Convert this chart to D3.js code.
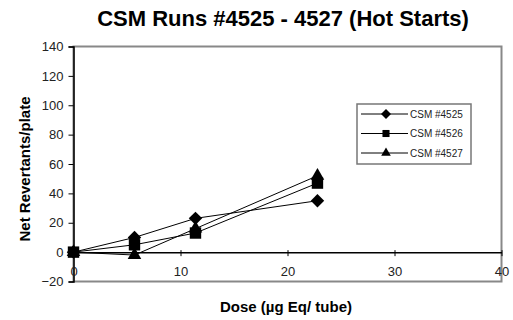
<!DOCTYPE html>
<html>
<head>
<meta charset="utf-8">
<script src="https://cdn.jsdelivr.net/npm/d3@7"></script>
<style>
body { margin: 0; background: #fff; }
text { font-family: Arial, "Liberation Sans", sans-serif; }
</style>
</head>
<body>
<script>
// data
var doses = [0, 5.7, 11.4, 22.8];
var run4525 = [0, 10, 23, 35];
var run4526 = [0, 5, 13, 47];
var run4527 = [0, -2, 16, 52];
var seriesNames = ['CSM #4525', 'CSM #4526', 'CSM #4527'];
var xTicks = [0, 10, 20, 30, 40];
var yTicks = [-20, 0, 20, 40, 60, 80, 100, 120, 140];

// diamond = square turned 45deg, like excel
var diamond = {
	draw: function(ctx, size) {
		var r = Math.sqrt(size / 2);
		ctx.moveTo(0, -r);
		ctx.lineTo(r, 0);
		ctx.lineTo(0, r);
		ctx.lineTo(-r, 0);
		ctx.closePath();
	}
};

var series = [
	{name: seriesNames[0], vals: run4525, shape: diamond, size: 90, lsize: 50},
	{name: seriesNames[1], vals: run4526, shape: d3.symbolSquare, size: 130, lsize: 50},
	{name: seriesNames[2], vals: run4527, shape: d3.symbolTriangle, size: 80, lsize: 40}
];

var svg = d3.select('body').append('svg')
	.attr('width', 513)
	.attr('height', 320);

var x = d3.scaleLinear().domain([0, 40]).range([73.5, 501.5]);
var y = d3.scaleLinear().domain([-20, 140]).range([281.5, 46.5]);

// plot frame
svg.append('rect')
	.attr('x', x(0))
	.attr('y', y(140))
	.attr('width', x(40) - x(0))
	.attr('height', y(-20) - y(140))
	.attr('fill', 'none')
	.attr('stroke', '#888')
	.attr('stroke-width', 2);

// title
svg.append('text')
	.attr('x', 283)
	.attr('y', 26)
	.attr('text-anchor', 'middle')
	.attr('font-size', 22)
	.attr('font-weight', 'bold')
	.text('CSM Runs #4525 - 4527 (Hot Starts)');

// y axis
var yAxis = svg.append('g')
	.attr('transform', 'translate(' + x(0) + ',0)')
	.call(d3.axisLeft(y).tickValues(yTicks).tickSize(5).tickPadding(5));
yAxis.select('.domain').attr('stroke', '#000').attr('stroke-width', 1.5);
yAxis.selectAll('text').attr('font-size', 13).attr('font-family', 'Arial, sans-serif').attr('fill', '#222');

// x axis crossing at zero
var xAxis = svg.append('g')
	.attr('transform', 'translate(0,' + y(0) + ')')
	.call(d3.axisBottom(x).tickValues(xTicks).tickSizeInner(4).tickSizeOuter(0).tickPadding(11));
xAxis.select('.domain').attr('stroke', '#000').attr('stroke-width', 1.5);
xAxis.selectAll('.tick line').attr('y1', -2).attr('y2', 4);
xAxis.selectAll('text').attr('font-size', 13).attr('font-family', 'Arial, sans-serif').attr('fill', '#222');

// axis titles
svg.append('text')
	.attr('transform', 'translate(30,169) rotate(-90)')
	.attr('text-anchor', 'middle')
	.attr('font-size', 15)
	.attr('font-weight', 'bold')
	.text('Net Revertants/plate');

svg.append('text')
	.attr('x', 286)
	.attr('y', 312)
	.attr('text-anchor', 'middle')
	.attr('font-size', 15)
	.attr('font-weight', 'bold')
	.text('Dose (\u00b5g Eq/ tube)');

// lines and markers
var line = d3.line()
	.x(function(d, i){ return x(doses[i]); })
	.y(function(d){ return y(d); });

series.forEach(function(s){
	svg.append('path')
		.attr('d', line(s.vals))
		.attr('fill', 'none')
		.attr('stroke', '#000')
		.attr('stroke-width', 1);
});

series.forEach(function(s){
	svg.selectAll(null)
		.data(s.vals)
		.enter().append('path')
		.attr('transform', function(d, i){ return 'translate(' + x(doses[i]) + ',' + y(d) + ')'; })
		.attr('d', d3.symbol().type(s.shape).size(s.size))
		.attr('fill', '#000');
});

// legend
var legend = svg.append('g');
legend.append('rect')
	.attr('x', 357)
	.attr('y', 104)
	.attr('width', 114)
	.attr('height', 60)
	.attr('fill', '#fff')
	.attr('stroke', '#777')
	.attr('stroke-width', 1.5);

series.forEach(function(s, i){
	var ly = 114 + i * 19.5;
	legend.append('line')
		.attr('x1', 361).attr('x2', 408)
		.attr('y1', ly).attr('y2', ly)
		.attr('stroke', '#000');
	legend.append('path')
		.attr('transform', 'translate(386,' + ly + ')')
		.attr('d', d3.symbol().type(s.shape).size(s.lsize))
		.attr('fill', '#000');
	legend.append('text')
		.attr('x', 410)
		.attr('y', ly + 3.5)
		.attr('font-size', 10)
		.attr('fill', '#222')
		.text(s.name);
});
</script>
</body>
</html>
